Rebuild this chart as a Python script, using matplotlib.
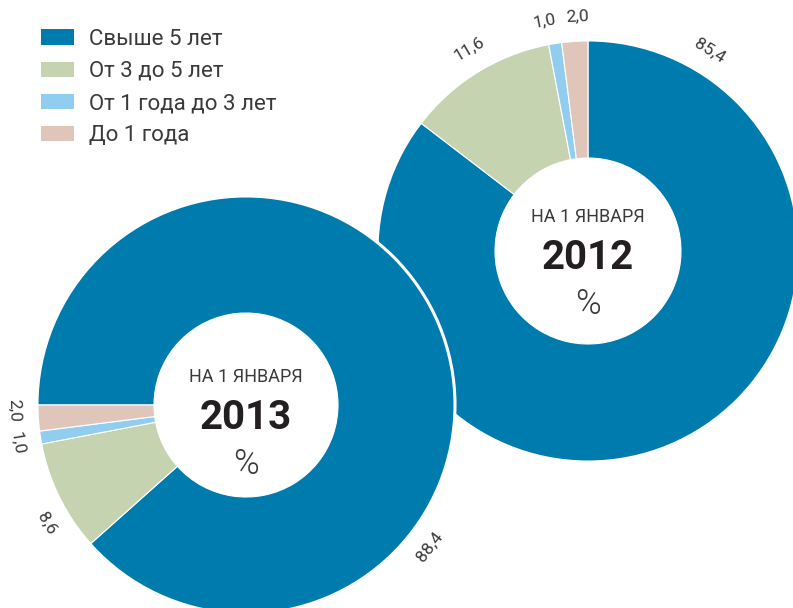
import numpy as np
import matplotlib
matplotlib.use('Agg')
import matplotlib.pyplot as plt
from matplotlib.patches import Patch

# data
categories = ['Свыше 5 лет', 'От 3 до 5 лет', 'От 1 года до 3 лет', 'До 1 года']
values_2012 = [85.4, 11.6, 1.0, 2.0]
values_2013 = [88.4, 8.6, 1.0, 2.0]
labels_2012 = ['85,4', '11,6', '1,0', '2,0']
labels_2013 = ['88,4', '8,6', '1,0', '2,0']
colors = ['#007bad', '#c6d3b0', '#91cdef', '#e0c5ba']

# where the value labels sit around each ring (degrees, counterclockwise from east)
lab_ang_2012 = [58.6, 120.5, 100.8, 92.5]
lab_ang_2013 = [-37.6, 210.8, 189.6, 181.2]

plt.rcParams['font.family'] = ['Roboto', 'DejaVu Sans']
txt = '#3a3a3a'

W, H = 793, 608
fig = plt.figure(figsize=(W / 100, H / 100), dpi=100)
ax = fig.add_axes([0, 0, 1, 1])


def donut(vals, labs, angs, cx, cy, r_out, r_in, start, year, ty=0):
    # cy given in pixel rows from the top
    y = H - cy
    wedges, _ = ax.pie(vals, colors=colors, startangle=start, counterclock=False,
                       center=(cx, y), radius=r_out, frame=True,
                       wedgeprops=dict(width=r_out - r_in, edgecolor='white', linewidth=0.8))
    ax.add_patch(plt.Circle((cx, y), r_out, fill=False, edgecolor='white', lw=2.2))
    # value labels, tangent to the ring
    for lab, ang in zip(labs, angs):
        rr = r_out + 23
        t = np.deg2rad(ang)
        rot = ang - 90 if np.sin(t) >= 0 else ang + 90
        ax.text(cx + rr * np.cos(t), y + rr * np.sin(t), lab, rotation=rot,
                rotation_mode='anchor', ha='center', va='center',
                fontsize=12.5, color=txt)
    yt = y - ty
    ax.text(cx, yt + 34, 'НА 1 ЯНВАРЯ', ha='center', va='center', fontsize=13, color=txt)
    ax.text(cx, yt - 7, year, ha='center', va='center', fontsize=29,
            fontweight='bold', color='#231f20')
    ax.text(cx, yt - 53, '%', ha='center', va='center', fontsize=25,
            fontweight=300, color=txt)
    return wedges


w12 = donut(values_2012, labels_2012, lab_ang_2012, 588, 251, 211, 93, 90, '2012')
w13 = donut(values_2013, labels_2013, lab_ang_2013, 246, 405, 209, 92, 180, '2013', ty=6)

ax.set_xlim(0, W)
ax.set_ylim(0, H)
ax.axis('off')

handles = [Patch(facecolor=c, edgecolor='none') for c in colors]
leg = ax.legend(handles, categories, loc='upper left', bbox_to_anchor=(32 / W, 1 - 20 / H),
                frameon=False, fontsize=16, handlelength=1.5, handleheight=0.68,
                handletextpad=0.65, labelspacing=0.5, borderaxespad=0)
for t in leg.get_texts():
    t.set_color(txt)

fig.savefig('out.png', dpi=100)
